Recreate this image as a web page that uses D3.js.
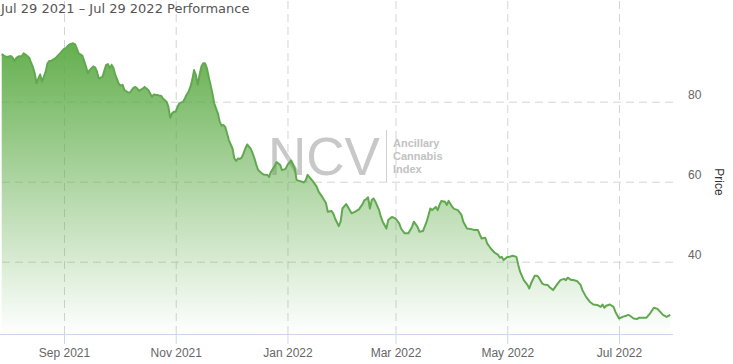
<!DOCTYPE html>
<html>
<head>
<meta charset="utf-8">
<script src="https://cdn.jsdelivr.net/npm/d3@7"></script>
<style>
  html, body { margin: 0; padding: 0; background: #fff; }
  svg { display: block; }
</style>
</head>
<body>
<svg id="chart" width="733" height="364"></svg>
<script>
const titleText = "Jul 29 2021 \u2013 Jul 29 2022 Performance";
const dates = [
"2021-07-29","2021-07-31","2021-08-01","2021-08-03","2021-08-04","2021-08-05","2021-08-06","2021-08-07","2021-08-09","2021-08-10",
"2021-08-11","2021-08-13","2021-08-14","2021-08-15","2021-08-16","2021-08-17","2021-08-18","2021-08-19","2021-08-20","2021-08-22",
"2021-08-23","2021-08-24","2021-08-25","2021-08-27","2021-08-28","2021-08-29","2021-08-30","2021-08-31","2021-09-01","2021-09-02",
"2021-09-03","2021-09-04","2021-09-06","2021-09-07","2021-09-08","2021-09-09","2021-09-11","2021-09-12","2021-09-13","2021-09-14",
"2021-09-15","2021-09-17","2021-09-18","2021-09-19","2021-09-20","2021-09-22","2021-09-23","2021-09-24","2021-09-25","2021-09-26",
"2021-09-27","2021-09-28","2021-09-29","2021-10-01","2021-10-02","2021-10-03","2021-10-04","2021-10-06","2021-10-07","2021-10-09",
"2021-10-10","2021-10-11","2021-10-12","2021-10-14","2021-10-15","2021-10-17","2021-10-18","2021-10-19","2021-10-20","2021-10-22",
"2021-10-23","2021-10-24","2021-10-25","2021-10-27","2021-10-28","2021-10-29","2021-10-30","2021-10-31","2021-11-01","2021-11-02",
"2021-11-03","2021-11-05","2021-11-06","2021-11-07","2021-11-08","2021-11-09","2021-11-10","2021-11-11","2021-11-12","2021-11-13",
"2021-11-14","2021-11-15","2021-11-16","2021-11-17","2021-11-18","2021-11-19","2021-11-20","2021-11-21","2021-11-22","2021-11-24",
"2021-11-25","2021-11-26","2021-11-27","2021-11-28","2021-11-29","2021-11-30","2021-12-02","2021-12-03","2021-12-04","2021-12-05",
"2021-12-06","2021-12-07","2021-12-08","2021-12-09","2021-12-10","2021-12-12","2021-12-13","2021-12-14","2021-12-15","2021-12-16",
"2021-12-17","2021-12-18","2021-12-19","2021-12-21","2021-12-22","2021-12-23","2021-12-25","2021-12-26","2021-12-28","2021-12-29",
"2021-12-31","2022-01-01","2022-01-03","2022-01-05","2022-01-06","2022-01-09","2022-01-10","2022-01-11","2022-01-12","2022-01-15",
"2022-01-17","2022-01-18","2022-01-20","2022-01-22","2022-01-23","2022-01-25","2022-01-26","2022-01-27","2022-01-29","2022-01-30",
"2022-01-31","2022-02-02","2022-02-03","2022-02-05","2022-02-07","2022-02-09","2022-02-11","2022-02-12","2022-02-13","2022-02-14",
"2022-02-15","2022-02-16","2022-02-17","2022-02-18","2022-02-20","2022-02-21","2022-02-22","2022-02-24","2022-02-25","2022-02-27",
"2022-03-01","2022-03-03","2022-03-04","2022-03-06","2022-03-08","2022-03-10","2022-03-11","2022-03-13","2022-03-14","2022-03-16",
"2022-03-18","2022-03-20","2022-03-21","2022-03-23","2022-03-24","2022-03-25","2022-03-26","2022-03-28","2022-03-29","2022-03-30",
"2022-04-01","2022-04-02","2022-04-04","2022-04-06","2022-04-07","2022-04-09","2022-04-11","2022-04-13","2022-04-15","2022-04-16",
"2022-04-17","2022-04-19","2022-04-20","2022-04-22","2022-04-24","2022-04-26","2022-04-27","2022-04-28","2022-04-29","2022-05-01",
"2022-05-02","2022-05-04","2022-05-06","2022-05-07","2022-05-08","2022-05-10","2022-05-12","2022-05-13","2022-05-14","2022-05-16",
"2022-05-17","2022-05-18","2022-05-20","2022-05-21","2022-05-23","2022-05-24","2022-05-26","2022-05-28","2022-05-30","2022-06-01",
"2022-06-02","2022-06-03","2022-06-05","2022-06-06","2022-06-08","2022-06-10","2022-06-11","2022-06-13","2022-06-15","2022-06-17",
"2022-06-19","2022-06-21","2022-06-22","2022-06-23","2022-06-24","2022-06-26","2022-06-28","2022-06-29","2022-07-01","2022-07-03",
"2022-07-05","2022-07-06","2022-07-07","2022-07-09","2022-07-11","2022-07-12","2022-07-14","2022-07-16","2022-07-18","2022-07-20",
"2022-07-22","2022-07-23","2022-07-25","2022-07-27","2022-07-29"
];
const prices = [
91.9,91.3,91.2,91.4,91.0,90.2,90.9,91.3,91.4,92.1,
91.8,91.0,89.8,88.7,87.1,84.6,85.8,86.8,85.0,87.5,
89.6,90.2,90.2,90.8,91.2,91.7,92.1,92.7,93.2,93.4,
93.9,94.3,94.6,94.4,93.3,92.1,91.5,90.2,88.8,87.1,
87.9,88.8,88.6,87.5,85.8,86.2,87.7,89.2,89.4,88.4,
89.2,88.4,86.7,84.4,84.0,84.2,82.9,82.3,82.3,83.5,
83.7,83.3,82.7,83.3,83.7,82.9,82.1,81.2,81.8,81.7,
81.5,81.5,80.8,80.0,78.7,76.0,77.1,77.5,77.5,78.7,
79.6,80.0,80.8,81.8,82.5,83.7,85.4,87.9,86.7,84.2,
86.7,88.8,89.6,89.6,88.4,86.2,84.2,82.1,79.6,77.1,
75.0,74.0,74.2,73.7,72.1,70.4,68.3,65.8,65.2,65.8,
65.7,66.0,67.1,68.3,69.3,68.2,67.1,65.8,64.2,62.9,
62.5,62.1,61.8,61.7,61.2,62.5,63.9,64.9,64.2,62.9,
63.2,64.2,65.3,63.3,60.4,60.0,59.8,60.4,61.7,60.0,
58.7,57.5,56.2,54.7,52.5,52.7,52.1,50.8,48.9,50.0,
53.3,54.4,53.7,52.1,52.5,53.1,54.4,55.4,55.6,56.1,
53.3,55.4,55.8,55.0,52.9,51.2,50.0,48.3,50.4,51.2,
50.8,49.6,48.3,47.1,47.1,48.7,50.0,48.7,47.5,47.7,
50.0,53.3,52.9,53.7,52.9,54.2,55.2,55.0,54.2,55.2,
53.7,53.2,52.9,51.7,50.0,48.3,48.2,47.9,47.9,46.8,
45.8,46.0,44.6,43.3,42.3,41.7,41.0,41.2,40.4,41.2,
41.2,41.5,41.2,39.2,37.5,35.4,34.2,33.3,34.6,36.5,
36.5,36.2,34.6,34.3,34.2,33.7,32.9,34.2,35.4,35.7,
35.4,36.0,35.4,35.4,35.2,34.2,32.9,31.2,30.0,29.3,
29.2,28.7,29.3,28.5,29.0,29.3,28.7,27.5,25.8,26.2,
26.5,26.7,26.5,25.8,25.7,26.0,26.0,26.0,27.1,28.5,
28.2,27.7,26.7,26.2,26.7
];
const xTickDates = ["2021-09-01","2021-11-01","2022-01-01","2022-03-01","2022-05-01","2022-07-01"];
const xTickLabels = ["Sep 2021","Nov 2021","Jan 2022","Mar 2022","May 2022","Jul 2022"];
const yTickValues = [40, 60, 80];
const yAxisTitle = "Price";
const watermarkBig = "NCV";
const watermarkLines = ["Ancillary", "Cannabis", "Index"];

const parse = d3.utcParse("%Y-%m-%d");
const data = dates.map((d, i) => ({ date: parse(d), value: prices[i] }));

const svg = d3.select("#chart");
const plotLeft = 0, plotRight = 673, plotTop = 0, plotBottom = 334;

const x = d3.scaleUtc()
  .domain([parse("2021-07-29"), parse("2022-07-29")])
  .range([1.72, 670.3]);
const y = d3.scaleLinear()
  .domain([21.925, 105.425])
  .range([plotBottom, plotTop]);

const defs = svg.append("defs");
const grad = defs.append("linearGradient")
  .attr("id", "areaGrad")
  .attr("gradientUnits", "userSpaceOnUse")
  .attr("x1", 0).attr("x2", 0)
  .attr("y1", 43).attr("y2", plotBottom);
grad.append("stop").attr("offset", 0).attr("stop-color", "#5cab45").attr("stop-opacity", 0.95);
grad.append("stop").attr("offset", 1).attr("stop-color", "#5cab45").attr("stop-opacity", 0.0);

defs.append("clipPath").attr("id", "plotClip")
  .append("rect").attr("x", plotLeft).attr("y", plotTop)
  .attr("width", plotRight - plotLeft).attr("height", plotBottom - plotTop);

// Watermark
const wm = svg.append("g").attr("class", "watermark");
wm.append("text")
  .attr("x", 268).attr("y", 175)
  .attr("font-family", "'Liberation Sans', Arial, sans-serif")
  .attr("font-size", 53)
  .attr("fill", "#c8c8c8")
  .text(watermarkBig);
wm.append("line")
  .attr("x1", 386.5).attr("x2", 386.5).attr("y1", 130).attr("y2", 182)
  .attr("stroke", "#cfcfcf").attr("stroke-width", 1);
wm.selectAll("text.small").data(watermarkLines).enter().append("text")
  .attr("class", "small")
  .attr("x", 393).attr("y", (d, i) => 147 + i * 12.8)
  .attr("font-family", "'Liberation Sans', Arial, sans-serif")
  .attr("font-size", 11).attr("font-weight", "bold")
  .attr("fill", "#c2c2c2")
  .text(d => d);

// Grid lines
const gridStyle = g => {
  g.select(".domain").remove();
  g.selectAll(".tick line").attr("stroke", "#d4d4d4").attr("stroke-dasharray", "8,5");
  g.selectAll(".tick text").remove();
};
svg.append("g")
  .attr("transform", `translate(0,${plotBottom})`)
  .call(d3.axisBottom(x).tickValues(xTickDates.map(parse)).tickSize(-(plotBottom - plotTop)).tickFormat(""))
  .call(gridStyle);
svg.append("g")
  .attr("transform", `translate(${plotRight},0)`)
  .call(d3.axisLeft(y).tickValues(yTickValues).tickSize(plotRight - plotLeft).tickFormat(""))
  .call(gridStyle);

// Area + line
const plot = svg.append("g").attr("clip-path", "url(#plotClip)");
plot.append("path")
  .datum(data)
  .attr("fill", "url(#areaGrad)")
  .attr("d", d3.area().x(d => x(d.date)).y0(plotBottom).y1(d => y(d.value)));
plot.append("path")
  .datum(data)
  .attr("fill", "none")
  .attr("stroke", "#62a851")
  .attr("stroke-width", 2)
  .attr("stroke-linejoin", "round")
  .attr("d", d3.line().x(d => x(d.date)).y(d => y(d.value)));

// X axis
svg.append("line")
  .attr("x1", plotLeft).attr("x2", plotRight)
  .attr("y1", plotBottom + 0.5).attr("y2", plotBottom + 0.5)
  .attr("stroke", "#ccd6eb");
const xAxisG = svg.append("g")
  .attr("transform", `translate(0,${plotBottom})`)
  .call(d3.axisBottom(x).tickValues(xTickDates.map(parse))
    .tickFormat((d, i) => xTickLabels[i]).tickSize(10).tickPadding(4.5));
xAxisG.select(".domain").remove();
xAxisG.selectAll(".tick line").attr("stroke", "#ccd6eb");
xAxisG.selectAll(".tick text")
  .attr("font-family", "'Liberation Sans', Arial, sans-serif")
  .attr("font-size", 12).attr("fill", "#666");

// Y axis labels (right side)
const yAxisG = svg.append("g")
  .attr("transform", "translate(688,0)")
  .call(d3.axisRight(y).tickValues(yTickValues).tickSize(0).tickFormat(d3.format("d")));
yAxisG.select(".domain").remove();
yAxisG.selectAll(".tick text")
  .attr("x", 0).attr("dy", null).attr("y", -3.2)
  .attr("text-anchor", "start")
  .attr("font-family", "'Liberation Sans', Arial, sans-serif")
  .attr("font-size", 12).attr("fill", "#666");

// Y axis title
svg.append("text")
  .attr("transform", "translate(719,182) rotate(90)")
  .attr("text-anchor", "middle")
  .attr("dominant-baseline", "central")
  .attr("font-family", "'Liberation Sans', Arial, sans-serif")
  .attr("font-size", 12).attr("fill", "#333")
  .text(yAxisTitle);

// Title
svg.append("text")
  .attr("x", 1).attr("y", 13)
  .attr("font-family", "'DejaVu Sans', sans-serif")
  .attr("font-size", 13).attr("fill", "#555")
  .text(titleText);
</script>
</body>
</html>
